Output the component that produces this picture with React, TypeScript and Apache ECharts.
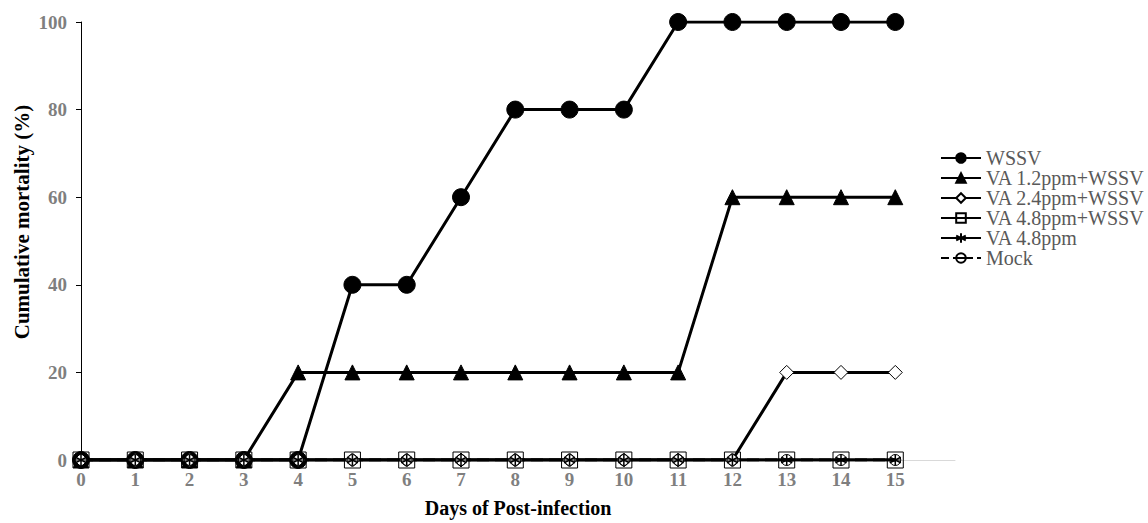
import React, { useEffect, useRef } from "react";
import * as echarts from "echarts";

const days = [0, 1, 2, 3, 4, 5, 6, 7, 8, 9, 10, 11, 12, 13, 14, 15];
const wssv = [0, 0, 0, 0, 0, 40, 40, 60, 80, 80, 80, 100, 100, 100, 100, 100];
const va12 = [0, 0, 0, 0, 20, 20, 20, 20, 20, 20, 20, 20, 60, 60, 60, 60];
const va24 = [0, 0, 0, 0, 0, 0, 0, 0, 0, 0, 0, 0, 0, 20, 20, 20];
const va48w = [0, 0, 0, 0, 0, 0, 0, 0, 0, 0, 0, 0, 0, 0, 0, 0];
const va48 = [0, 0, 0, 0, 0, 0, 0, 0, 0, 0, 0, 0, 0, 0, 0, 0];
const mock = [0, 0, 0, 0, 0, 0, 0, 0, 0, 0, 0, 0, 0, 0, 0, 0];
const yTicks = [0, 20, 40, 60, 80, 100];

const FONT = "'Liberation Serif', 'Times New Roman', serif";
const STAR = "path://M0,-1L0,1M-0.87,-0.5L0.87,0.5M-0.87,0.5L0.87,-0.5";
const THETA = "path://M-1,0A1,1 0 1,0 1,0A1,1 0 1,0 -1,0ZM-1,0L1,0";

export default function App() {
  const ref = useRef<HTMLDivElement>(null);
  useEffect(() => {
    const chart = echarts.init(ref.current!, null, { renderer: "svg" });
    const pts = (arr: number[]) => days.map((d, i) => [d, arr[i]]);
    const mk = (name: string, arr: number[], symbol: string, size: number, fill: string, dashed = false, bw = 1) => ({
      name,
      type: "line",
      data: pts(arr),
      symbol,
      symbolSize: size,
      showAllSymbol: true,
      lineStyle: { color: "#000", width: 3, type: dashed ? "dashed" : "solid" },
      itemStyle: { color: fill, borderColor: "#000", borderWidth: bw },
      emphasis: { disabled: true },
    });
    chart.setOption({
      animation: false,
      grid: { left: 81, right: 193, top: 22, bottom: 61, containLabel: false },
      legend: {
        orient: "vertical",
        left: 935,
        top: 143,
        itemWidth: 40,
        itemHeight: 12,
        itemGap: 0,
        textStyle: { fontFamily: FONT, fontSize: 20, lineHeight: 20, color: "#595959" },
        data: ["WSSV", "VA 1.2ppm+WSSV", "VA 2.4ppm+WSSV", "VA 4.8ppm+WSSV", "VA 4.8ppm", "Mock"],
      },
      xAxis: {
        type: "value",
        min: 0,
        max: 16.1,
        interval: 1,
        splitLine: { show: false },
        axisLine: { lineStyle: { color: "#d9d9d9", width: 1 } },
        axisTick: { show: false },
        axisLabel: {
          fontFamily: FONT,
          fontSize: 19,
          fontWeight: "bold",
          color: "#7f7f7f",
          margin: 10,
          showMaxLabel: false,
          formatter: (v: number) => (v <= 15 ? String(v) : ""),
        },
        name: "Days of Post-infection",
        nameLocation: "middle",
        nameGap: 38,
        nameTextStyle: { fontFamily: FONT, fontSize: 20, fontWeight: "bold", color: "#000", verticalAlign: "top" },
      },
      yAxis: {
        type: "value",
        min: yTicks[0],
        max: yTicks[yTicks.length - 1],
        interval: 20,
        splitLine: { show: false },
        axisLine: { show: true, lineStyle: { color: "#000", width: 1 } },
        axisTick: { show: true, length: 5, lineStyle: { color: "#000" } },
        axisLabel: { fontFamily: FONT, fontSize: 19, fontWeight: "bold", color: "#7f7f7f", margin: 14 },
      },
      graphic: [
        {
          type: "text",
          x: 22,
          y: 222,
          rotation: Math.PI / 2,
          style: {
            text: "Cumulative mortality (%)",
            font: `bold 21px ${FONT}`,
            fill: "#000",
            align: "center",
            verticalAlign: "middle",
          },
        },
      ],
      series: [
        mk("WSSV", wssv, "circle", 17, "#000"),
        mk("VA 1.2ppm+WSSV", va12, "triangle", 15, "#000"),
        mk("VA 2.4ppm+WSSV", va24, "diamond", 14, "#fff"),
        mk("VA 4.8ppm+WSSV", va48w, "rect", 16, "rgba(0,0,0,0)"),
        mk("VA 4.8ppm", va48, STAR, 11, "none", false, 1.5),
        mk("Mock", mock, THETA, 11, "rgba(0,0,0,0)", true),
      ],
    });
    return () => chart.dispose();
  }, []);
  return <div ref={ref} style={{ width: 1148, height: 523, position: "absolute", left: 0, top: 0 }} />;
}
